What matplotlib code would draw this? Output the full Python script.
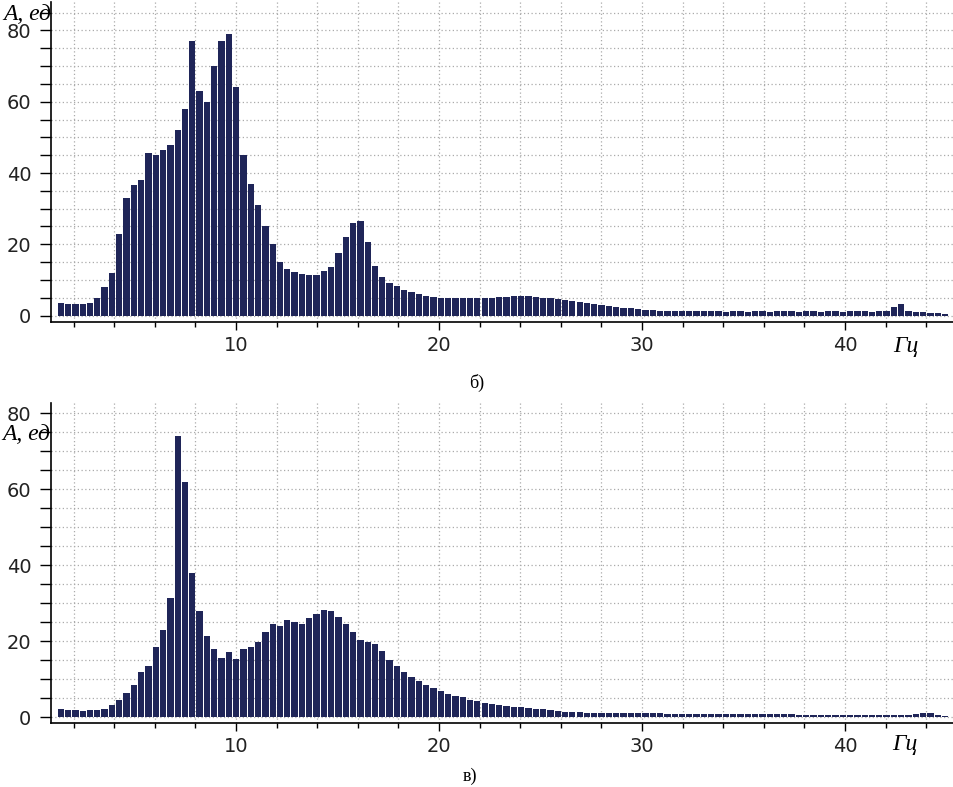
import numpy as np
import matplotlib
matplotlib.use("Agg")
import matplotlib.pyplot as plt
from matplotlib.ticker import MultipleLocator

# amplitude spectra, one value per bar (about 0.36 Hz per bar)
amp_b = [3.4, 3.3, 3.3, 3.3, 3.5, 4.8, 8.0, 12.0, 23.0, 33.0,
         36.5, 38.0, 45.5, 45.0, 46.5, 48.0, 52.0, 58.0, 77.0, 63.0,
         60.0, 70.0, 77.0, 79.0, 64.0, 45.0, 37.0, 31.0, 25.0, 20.0,
         15.0, 13.0, 12.3, 11.6, 11.3, 11.4, 12.4, 13.5, 17.5, 22.0,
         26.0, 26.5, 20.5, 14.0, 10.8, 9.2, 8.2, 7.2, 6.5, 6.0,
         5.5, 5.2, 5.0, 5.0, 4.9, 4.9, 5.0, 5.0, 5.0, 5.0,
         5.1, 5.2, 5.4, 5.5, 5.4, 5.3, 5.0, 4.8, 4.6, 4.4,
         4.1, 3.9, 3.6, 3.2, 2.9, 2.6, 2.4, 2.2, 2.0, 1.8,
         1.6, 1.5, 1.4, 1.3, 1.3, 1.2, 1.2, 1.2, 1.2, 1.2,
         1.2, 1.1, 1.2, 1.2, 1.1, 1.2, 1.2, 1.1, 1.2, 1.2,
         1.2, 1.1, 1.2, 1.2, 1.1, 1.2, 1.2, 1.1, 1.2, 1.2,
         1.2, 1.1, 1.2, 1.4, 2.4, 3.2, 1.4, 1.0, 1.0, 0.6,
         0.6, 0.5]

amp_v = [2.2, 1.9, 1.8, 1.7, 1.9, 2.0, 2.2, 3.2, 4.6, 6.3,
         8.6, 11.8, 13.5, 18.4, 23.0, 31.5, 74.0, 62.0, 38.0, 28.0,
         21.5, 18.0, 15.5, 17.2, 15.4, 17.9, 18.6, 19.8, 22.4, 24.5,
         24.0, 25.5, 25.2, 24.6, 26.0, 27.2, 28.2, 28.0, 26.3, 24.6,
         22.5, 20.3, 19.8, 19.2, 17.4, 15.0, 13.5, 12.0, 10.7, 9.6,
         8.6, 7.6, 6.9, 6.2, 5.7, 5.2, 4.6, 4.2, 3.8, 3.5,
         3.2, 3.0, 2.8, 2.6, 2.5, 2.3, 2.1, 1.9, 1.7, 1.5,
         1.4, 1.3, 1.2, 1.1, 1.1, 1.0, 1.0, 1.0, 1.0, 1.0,
         1.0, 1.0, 1.0, 0.9, 0.9, 0.9, 0.9, 0.9, 0.8, 0.8,
         0.8, 0.8, 0.8, 0.8, 0.8, 0.8, 0.8, 0.8, 0.8, 0.8,
         0.8, 0.7, 0.7, 0.7, 0.7, 0.7, 0.7, 0.7, 0.7, 0.7,
         0.7, 0.7, 0.7, 0.7, 0.7, 0.7, 0.7, 0.8, 1.0, 1.0,
         0.5, 0.4]

f_start = 1.37
f_step = 0.36
freq = np.round(f_start + f_step * np.arange(len(amp_b)), 2)

bar_color = "#1f2558"
serif = ["Liberation Serif", "DejaVu Serif"]

fig = plt.figure(figsize=(9.54, 7.87), dpi=100)


def setup(ax, ymin, ymax):
    ax.set_xlim(0.872, 45.37)
    ax.set_ylim(ymin, ymax)
    for s in ["top", "right"]:
        ax.spines[s].set_visible(False)
    for s in ["left", "bottom"]:
        ax.spines[s].set_linewidth(1.2)
    ax.xaxis.set_major_locator(MultipleLocator(10))
    ax.xaxis.set_minor_locator(MultipleLocator(2))
    ax.yaxis.set_major_locator(MultipleLocator(20))
    ax.yaxis.set_minor_locator(MultipleLocator(5))
    ax.tick_params(axis="x", which="major", length=6, width=1.0, pad=4,
                   labelsize=14, labelcolor="#222222")
    ax.tick_params(axis="x", which="minor", length=3.5, width=1.0)
    ax.tick_params(axis="y", which="both", length=8, width=1.0, pad=6,
                   labelsize=14, labelcolor="#222222")
    ax.grid(which="both", axis="both", linestyle=(0, (1, 2)),
            color="#ababab", linewidth=0.9)
    ax.set_axisbelow(True)


ax1 = fig.add_axes([0.0531, 0.5909, 0.9469, 0.4066])
setup(ax1, -1.8, 88)
ax1.bar(freq, amp_b, width=0.31, color=bar_color, linewidth=0)

ax2 = fig.add_axes([0.0531, 0.0809, 0.9469, 0.4070])
setup(ax2, -1.6, 82.7)
ax2.bar(freq, amp_v, width=0.31, color=bar_color, linewidth=0)

fig.text(0.003, 0.975, "A, ед", family=serif, style="italic", fontsize=17,
         va="baseline", ha="left")
fig.text(0.936, 0.553, "Гц", family=serif, style="italic", fontsize=17,
         va="baseline", ha="left")
fig.text(0.500, 0.507, "б)", family=serif, fontsize=13,
         va="baseline", ha="center")

fig.text(0.002, 0.441, "A, ед", family=serif, style="italic", fontsize=17,
         va="baseline", ha="left")
fig.text(0.935, 0.047, "Гц", family=serif, style="italic", fontsize=17,
         va="baseline", ha="left")
fig.text(0.493, 0.008, "в)", family=serif, fontsize=13,
         va="baseline", ha="center")

fig.savefig("out.png", dpi=100)
